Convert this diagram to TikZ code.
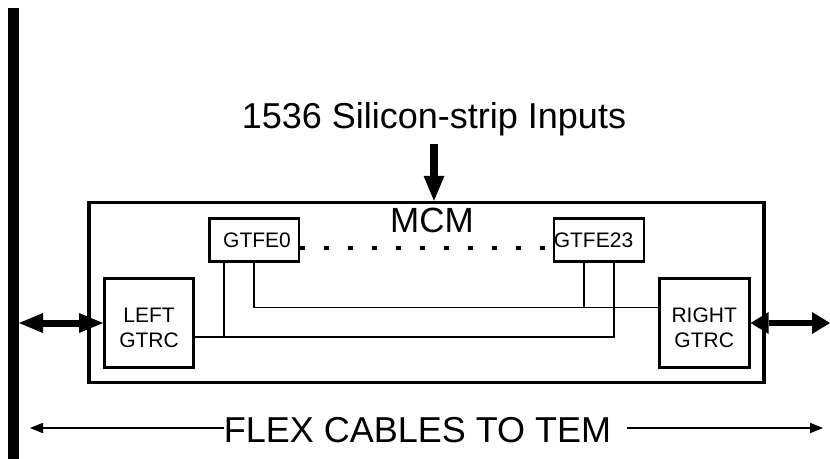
\documentclass[tikz,border=0pt]{standalone}
\usepackage{fontspec}
\setmainfont{Liberation Sans}
\usetikzlibrary{arrows.meta}
\begin{document}
\begin{tikzpicture}[x=1pt,y=-1pt,
  bigbox/.style={draw,line width=3.7pt,inner sep=0pt},
  gtrcbox/.style={draw,line width=2.9pt,inner sep=0pt,minimum width=89pt,minimum height=89pt},
  febox/.style={draw,line width=2.7pt,inner sep=0pt,minimum width=89.5pt,minimum height=43pt},
  wire/.style={line width=1.8pt},
  lbl/.style={font=\fontsize{21}{25}\selectfont,inner sep=0pt,align=center},
  bigtxt/.style={font=\fontsize{36}{43}\selectfont,inner sep=0pt},
  dbl/.style={line width=7pt,{Triangle[length=24pt,width=20pt,line width=0pt]}-{Triangle[length=24pt,width=20pt,line width=0pt]}},
  dblr/.style={line width=6.5pt,{Triangle[length=18pt,width=22pt,line width=0pt]}-{Triangle[length=18pt,width=22pt,line width=0pt]}},
  inarrow/.style={line width=8pt,-{Triangle[length=25pt,width=21pt,line width=0pt]}},
  thinarrow/.style={line width=2.5pt,-{Triangle[length=13pt,width=10.5pt,line width=0pt]}}
]
\useasboundingbox (0,0) rectangle (830,458);

% vertical bus bar
\coordinate (bartop) at (13.5,8);
\coordinate (barbot) at (13.5,470);
\coordinate (barE) at (19,0);
\draw[line width=11pt] (bartop) -- (barbot);

% MCM
\node[bigbox,minimum width=675pt,minimum height=180pt] (mcm) at (426.6,292.6) {};
\node[bigtxt,font=\fontsize{35}{42}\selectfont,anchor=base] (mcmlbl) at (432,232) {MCM};

% title and input arrow
\node[bigtxt,anchor=base] (title) at (434,128) {1536 Silicon-strip Inputs};
\draw[inarrow,shorten <=8pt] (title.south) -- (title.south |- mcm.north);

% GTRC boxes
\node[gtrcbox] (lg) at (149,323) {};
\node[gtrcbox,minimum width=90pt] (rg) at (704.2,323) {};
\node[lbl] (lgl) at ([yshift=-5pt]lg.center) {LEFT\\GTRC};
\node[lbl] (rgl) at ([yshift=-5pt]rg.center) {RIGHT\\GTRC};

% GTFE boxes
\node[febox] (g0) at (254.2,240) {};
\node[febox,minimum width=90pt] (g23) at (599,240.3) {};
\node[lbl] (g0l) at (257,240.5) {GTFE0};
\node[lbl] (g23l) at (593.5,240.5) {GTFE23};

% dots
\foreach \i in {0,...,10} \fill ({302+24*\i-2.5},246) rectangle ++(5,4);

% wires
\coordinate (xa) at (253.8,0);
\coordinate (xb) at (223.8,0);
\coordinate (xc) at (583.8,0);
\coordinate (xd) at (613.8,0);
\coordinate (ya) at (0,307.5);
\coordinate (yb) at (0,337.2);
\draw[wire] (g0.south -| xa) |- (rg.west |- ya);
\draw[wire] (lg.east |- yb) -| (g23.south -| xd);
\draw[wire] (g0.south -| xb) -- (xb |- yb);
\draw[wire] (g23.south -| xc) -- (xc |- ya);

% double arrows
\coordinate (rend) at (830,0);
\draw[dbl] (lg.west -| barE) -- (lg.west);
\draw[dblr] (rg.east) -- (rg.east -| rend);

% bottom label and arrows
\node[bigtxt,anchor=base] (flex) at (417.5,442) {FLEX CABLES TO TEM};
\coordinate (ltip) at (30,428);
\coordinate (rtip) at (823,428);
\coordinate (fe) at ([xshift=16pt]flex.east);
\draw[thinarrow] (flex.west |- ltip) -- (ltip);
\draw[thinarrow] (fe |- rtip) -- (rtip);
\end{tikzpicture}
\end{document}
